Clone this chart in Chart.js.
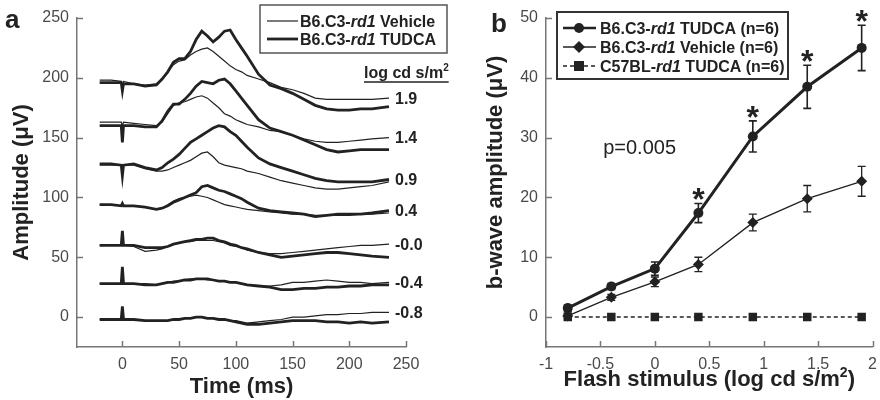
<!DOCTYPE html>
<html>
<head>
<meta charset="utf-8">
<script src="https://cdn.jsdelivr.net/npm/chart.js@4"></script>
<style>
  body { margin: 0; background: #fff; }
  #wrap { position: relative; width: 880px; height: 400px; overflow: hidden; }
  canvas { position: absolute; top: 0; }
</style>
</head>
<body>
<div id="wrap">
  <canvas id="chartA" width="460" height="400" style="left:0"></canvas>
  <canvas id="chartB" width="420" height="400" style="left:460px"></canvas>
</div>
<script>
// ---- panel a: ERG traces (amplitude in uV, already offset per intensity) ----
const time = [-20, -10, -1, 0, 1, 10, 20, 30, 35, 40, 45, 50, 55, 60, 65, 70, 75, 80, 85, 90,
              95, 100, 105, 110, 120, 130, 140, 150, 160, 170, 180, 190, 200, 210, 220, 235];
const timeTicks = [0, 50, 100, 150, 200, 250];
const ampTicks = [0, 50, 100, 150, 200, 250];
const intensities = ['1.9', '1.4', '0.9', '0.4', '-0.0', '-0.4', '-0.8'];

const tud19 = [196,196,196,189,195, 195,193,194,199,205, 213,216,216,222,232, 239,235,230,234,239,
               240,232,225,218,203, 194,191,187,182,177, 174,173,173,174,174, 176];
const veh19 = [198,198,197,193,197, 195,194,195,199,205, 211,214,215,219,222, 224,225,222,218,214,
               210,207,205,202,199, 196,192,190,187,183, 182,182,182,182,182, 183];
const tud14 = [160,160,160,146,160, 160,159,159,164,172, 178,178,182,187,193, 197,196,195,198,199,
               195,189,183,177,165, 158,155,152,148,144, 140,138,139,140,140, 140];
const veh14 = [163,163,163,160,163, 162,161,160,163,170, 177,179,180,182,184, 185,183,179,175,170,
               168,165,163,161,159, 156,155,152,149,147, 146,146,147,148,149, 150];
const tud09 = [128,128,127,118,127, 128,125,123,125,129, 132,136,141,146,149, 152,155,158,160,159,
               155,152,147,142,133, 128,125,122,119,116, 114,113,113,113,113, 115];
const veh09 = [127,127,127,124,127, 127,124,122,122,123, 125,127,129,131,134, 137,138,134,129,127,
               126,125,124,122,120, 117,114,112,110,108, 107,107,108,109,110, 113];
const tud04 = [94,94,93,95,93, 93,92,90,91,93, 96,98,100,102,104, 109,110,108,106,105,
               103,101,99,96,91, 89,88,87,86,84, 85,86,86,86,87, 89];
const veh04 = [94,94,93,95,93, 93,92,90,91,94, 97,99,100,101,102, 101,100,98,96,94,
               93,92,91,90,89, 88,87,86,86,85, 85,85,85,86,86, 87];
const tud00 = [60,60,60,72,60, 60,58,58,58,59, 61,62,63,64,65, 65,66,66,64,63,
               61,60,58,57,54, 52,50,51,52,53, 54,54,53,52,51, 50];
const veh00 = [60,60,60,62,60, 59,55,56,57,59, 61,62,63,63,64, 64,64,64,63,62,
               60,59,58,56,54, 53,53,54,55,56, 57,58,59,60,60, 61];
const tudm04 = [28,28,28,42,28, 28,27,27,28,29, 29,30,31,31,32, 32,32,31,30,30,
                29,29,28,27,26, 25,23,23,24,24, 25,25,26,26,27, 27];
const vehm04 = [28,28,28,30,28, 28,28,27,28,29, 30,30,31,32,32, 32,31,31,30,30,
                29,29,28,27,26, 26,27,29,29,30, 31,30,29,29,28, 29];
const tudm08 = [-2,-2,-2,9,-2, -2,-3,-3,-3,-3, -2,-2,-1,-1,0, 0,-1,-1,-2,-2,
                -3,-4,-5,-6,-6, -5,-4,-3,-3,-3, -4,-4,-5,-4,-5, -4];
const vehm08 = [-2,-2,-2,0,-2, -2,-3,-3,-3,-3, -2,-2,-1,-1,0, 0,-1,-1,-2,-2,
                -3,-3,-4,-5,-4, -3,-2,0,0,1, 2,2,3,3,4, 4];

const vehTraces = [veh19, veh14, veh09, veh04, veh00, vehm04, vehm08];
const tudTraces = [tud19, tud14, tud09, tud04, tud00, tudm04, tudm08];

// ---- panel b: b-wave amplitude vs flash stimulus ----
const stim = [-0.8, -0.4, 0, 0.4, 0.9, 1.4, 1.9];
const stimTicks = [-1, -0.5, 0, 0.5, 1, 1.5, 2];
const bTicks = [0, 10, 20, 30, 40, 50];
const tudcaMean = [1.5, 5.1, 8.1, 17.4, 30.2, 38.5, 45.0];
const tudcaErr = [0.5, 0.5, 1.1, 1.6, 2.6, 3.6, 3.8];
const vehMean = [0.2, 3.3, 5.9, 8.8, 15.8, 19.8, 22.7];
const vehErr = [0.5, 0.5, 0.8, 1.2, 1.4, 2.2, 2.5];
const c57Mean = [0, 0, 0, 0, 0, 0, 0];
const sigIdx = [3, 4, 5, 6];

const FONT = '"Liberation Sans", Arial, sans-serif';
const INK = '#222';
const AXIS = '#777';
const TICK = '#4a4a4a';

// draws text made of parts [text, italic, sup]; align 'left' | 'center'
function richText(ctx, parts, x, y, size, align) {
  const fontOf = (p) => (p[1] ? 'italic ' : '') + 'bold ' + (p[2] ? Math.round(size * 0.65) : size) + 'px ' + FONT;
  let total = 0;
  parts.forEach(p => { ctx.font = fontOf(p); total += ctx.measureText(p[0]).width; });
  let cx = align === 'center' ? x - total / 2 : x;
  ctx.textAlign = 'left';
  parts.forEach(p => {
    ctx.font = fontOf(p);
    ctx.fillText(p[0], cx, p[2] ? y - size * 0.42 : y);
    cx += ctx.measureText(p[0]).width;
  });
  return total;
}

// chart.js only draws outward tick marks; keep their space but hide them
function axisOpts(min, max, ticks, size) {
  return {
    type: 'linear', min: min, max: max,
    afterBuildTicks: s => { s.ticks = ticks.map(v => ({ value: v })); },
    afterFit: size,
    grid: { drawOnChartArea: false, drawTicks: true, tickLength: 5, tickColor: 'rgba(0,0,0,0)' },
    border: { display: true, color: AXIS, width: 1.5 },
    ticks: { color: TICK, padding: 3, font: { family: FONT, size: 16 }, maxRotation: 0, autoSkip: false,
             callback: v => String(v) }
  };
}

// inward tick marks, drawn on top
const innerTicks = {
  id: 'innerTicks',
  afterDraw(chart) {
    const ctx = chart.ctx, xs = chart.scales.x, ys = chart.scales.y, area = chart.chartArea;
    ctx.save();
    ctx.strokeStyle = AXIS;
    ctx.lineWidth = 1.5;
    ctx.beginPath();
    xs.ticks.forEach(t => {
      const x = Math.round(xs.getPixelForValue(t.value)) + 0.5;
      ctx.moveTo(x, area.bottom); ctx.lineTo(x, area.bottom - 6);
    });
    ys.ticks.forEach(t => {
      const y = Math.round(ys.getPixelForValue(t.value)) + 0.5;
      ctx.moveTo(area.left, y); ctx.lineTo(area.left + 6, y);
    });
    ctx.stroke();
    ctx.restore();
  }
};

const traceSets = [];
vehTraces.forEach(v => traceSets.push({
  data: time.map((t, i) => ({ x: t, y: v[i] })),
  borderColor: INK, borderWidth: 1.2, pointRadius: 0
}));
tudTraces.forEach(v => traceSets.push({
  data: time.map((t, i) => ({ x: t, y: v[i] })),
  borderColor: INK, borderWidth: 2.8, pointRadius: 0
}));

const decorA = {
  id: 'decorA',
  afterDraw(chart) {
    const ctx = chart.ctx, xs = chart.scales.x, ys = chart.scales.y, area = chart.chartArea;
    ctx.save();
    ctx.fillStyle = INK;
    ctx.textBaseline = 'alphabetic';
    // panel letter
    ctx.font = 'bold 26px ' + FONT;
    ctx.fillText('a', 5, 28);
    // axis titles
    richText(ctx, [['Time (ms)']], (area.left + area.right) / 2, 393, 22, 'center');
    ctx.save();
    ctx.translate(28, (area.top + area.bottom) / 2);
    ctx.rotate(-Math.PI / 2);
    richText(ctx, [['Amplitude (μV)']], 0, 0, 22, 'center');
    ctx.restore();
    // intensity labels beside the trace ends
    const last = time.length - 1;
    intensities.forEach((lab, k) => {
      const lvl = Math.max(vehTraces[k][last], tudTraces[k][last]);
      ctx.font = 'bold 16px ' + FONT;
      ctx.textAlign = 'left';
      ctx.textBaseline = 'middle';
      ctx.fillText(lab, xs.getPixelForValue(time[last]) + 6, ys.getPixelForValue(lvl) + 1);
    });
    ctx.textBaseline = 'alphabetic';
    // unit header, underlined
    const w = richText(ctx, [['log cd s/m'], ['2', false, true]], 364, 78, 16, 'left');
    ctx.strokeStyle = INK;
    ctx.lineWidth = 1.3;
    ctx.beginPath(); ctx.moveTo(364, 82); ctx.lineTo(364 + w, 82); ctx.stroke();
    // legend
    ctx.fillStyle = '#fff';
    ctx.fillRect(260, 5, 187, 48);
    ctx.strokeStyle = '#555';
    ctx.lineWidth = 1.5;
    ctx.strokeRect(260, 5, 187, 48);
    ctx.strokeStyle = INK;
    [[1.2, 21, ' Vehicle'], [2.8, 39, ' TUDCA']].forEach(([lw, y, name]) => {
      ctx.lineWidth = lw;
      ctx.beginPath(); ctx.moveTo(267, y); ctx.lineTo(298, y); ctx.stroke();
      ctx.fillStyle = INK;
      richText(ctx, [['B6.C3-'], ['rd1', true], [name]], 300, y + 6, 16, 'left');
    });
    ctx.restore();
  }
};

new Chart(document.getElementById('chartA'), {
  type: 'line',
  data: { datasets: traceSets },
  options: {
    responsive: false,
    animation: false,
    layout: { padding: { top: 18, right: 54, left: 0, bottom: 0 } },
    plugins: { legend: { display: false }, tooltip: { enabled: false } },
    scales: {
      x: axisOpts(-40, 250, timeTicks, s => { s.height = 53; }),
      y: axisOpts(-25, 250, ampTicks, s => { s.width = 77; })
    }
  },
  plugins: [innerTicks, decorA]
});

// ---- panel b ----
const errorBars = {
  id: 'errorBars',
  afterDatasetsDraw(chart) {
    const ctx = chart.ctx, xs = chart.scales.x, ys = chart.scales.y;
    ctx.save();
    ctx.strokeStyle = INK;
    [[tudcaMean, tudcaErr, 1.6], [vehMean, vehErr, 1.3]].forEach(([m, e, lw]) => {
      ctx.lineWidth = lw;
      stim.forEach((s, i) => {
        const x = xs.getPixelForValue(s);
        const yt = ys.getPixelForValue(m[i] + e[i]);
        const yb = ys.getPixelForValue(m[i] - e[i]);
        ctx.beginPath();
        ctx.moveTo(x, yt); ctx.lineTo(x, yb);
        ctx.moveTo(x - 4, yt); ctx.lineTo(x + 4, yt);
        ctx.moveTo(x - 4, yb); ctx.lineTo(x + 4, yb);
        ctx.stroke();
      });
    });
    ctx.restore();
  },
  afterDraw(chart) {
    const ctx = chart.ctx, xs = chart.scales.x, ys = chart.scales.y, area = chart.chartArea;
    ctx.save();
    ctx.fillStyle = INK;
    ctx.textBaseline = 'alphabetic';
    // significance stars
    ctx.font = 'bold 32px ' + FONT;
    ctx.textAlign = 'center';
    sigIdx.forEach(i => {
      ctx.fillText('*', xs.getPixelForValue(stim[i]), ys.getPixelForValue(tudcaMean[i] + tudcaErr[i]) + 7);
    });
    // p value
    ctx.font = '20px ' + FONT;
    ctx.fillText('p=0.005', xs.getPixelForValue(-0.14), ys.getPixelForValue(28.4) + 7);
    // panel letter
    ctx.font = 'bold 26px ' + FONT;
    ctx.textAlign = 'left';
    ctx.fillText('b', 31, 32);
    // axis titles
    richText(ctx, [['Flash stimulus (log cd s/m'], ['2', false, true], [')']], (area.left + area.right) / 2, 386, 22, 'center');
    ctx.save();
    ctx.translate(42, (area.top + area.bottom) / 2 - 10);
    ctx.rotate(-Math.PI / 2);
    richText(ctx, [['b-wave amplitude (μV)']], 0, 0, 22, 'center');
    ctx.restore();
    // legend
    ctx.fillStyle = '#fff';
    ctx.fillRect(97, 12, 231, 67);
    ctx.strokeStyle = '#333';
    ctx.lineWidth = 2;
    ctx.strokeRect(97, 12, 231, 67);
    const entries = [
      [28, 2.6, [], 'circle', [['B6.C3-'], ['rd1', true], [' TUDCA (n=6)']]],
      [47, 1.3, [], 'diamond', [['B6.C3-'], ['rd1', true], [' Vehicle (n=6)']]],
      [66, 1.5, [4, 3], 'square', [['C57BL-'], ['rd1', true], [' TUDCA (n=6)']]]
    ];
    entries.forEach(([y, lw, dash, mk, parts]) => {
      ctx.strokeStyle = INK;
      ctx.fillStyle = INK;
      ctx.lineWidth = lw;
      ctx.setLineDash(dash);
      ctx.beginPath(); ctx.moveTo(103, y); ctx.lineTo(136, y); ctx.stroke();
      ctx.setLineDash([]);
      ctx.beginPath();
      if (mk === 'circle') ctx.arc(119, y, 5, 0, Math.PI * 2);
      if (mk === 'diamond') { ctx.moveTo(119, y - 6); ctx.lineTo(125, y); ctx.lineTo(119, y + 6); ctx.lineTo(113, y); ctx.closePath(); }
      if (mk === 'square') ctx.rect(114, y - 5, 10, 10);
      ctx.fill();
      richText(ctx, parts, 140, y + 6, 16, 'left');
    });
    ctx.restore();
  }
};

new Chart(document.getElementById('chartB'), {
  type: 'line',
  data: {
    datasets: [
      { data: stim.map((s, i) => ({ x: s, y: c57Mean[i] })), borderColor: INK, backgroundColor: INK,
        borderWidth: 1.5, borderDash: [4, 3], pointStyle: 'rect', pointRadius: 6, pointBorderWidth: 0 },
      { data: stim.map((s, i) => ({ x: s, y: vehMean[i] })), borderColor: INK, backgroundColor: INK,
        borderWidth: 1.4, pointStyle: 'rectRot', pointRadius: 5.5, pointBorderWidth: 0 },
      { data: stim.map((s, i) => ({ x: s, y: tudcaMean[i] })), borderColor: INK, backgroundColor: INK,
        borderWidth: 3, pointStyle: 'circle', pointRadius: 5, pointBorderWidth: 0 }
    ]
  },
  options: {
    responsive: false,
    animation: false,
    layout: { padding: { top: 18, right: 5, left: 0, bottom: 0 } },
    plugins: { legend: { display: false }, tooltip: { enabled: false } },
    scales: {
      x: axisOpts(-1, 2, stimTicks, s => { s.height = 53; }),
      y: axisOpts(-5, 50, bTicks, s => { s.width = 86; })
    }
  },
  plugins: [innerTicks, errorBars]
});
</script>
</body>
</html>
